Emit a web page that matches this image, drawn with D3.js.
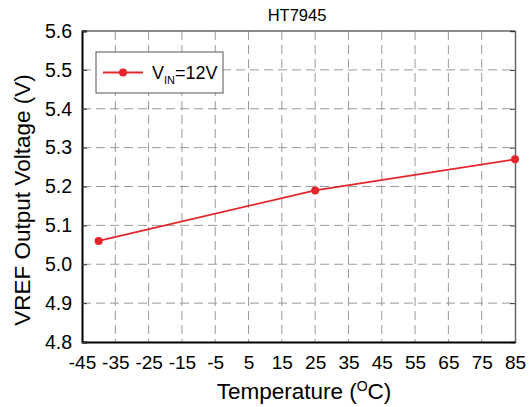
<!DOCTYPE html>
<html>
<head>
<meta charset="utf-8">
<script src="https://cdn.jsdelivr.net/npm/d3@7"></script>
<style>
  body { margin: 0; background: #fff; }
  svg { font-family: "Liberation Sans", Arial, sans-serif; }
</style>
</head>
<body>
<div id="chart"></div>
<script>
// chart data
const temperatures = [-40, 25, 85];
const vrefValues = [5.06, 5.19, 5.27];
const xTicks = [-45, -35, -25, -15, -5, 5, 15, 25, 35, 45, 55, 65, 75, 85];
const yTicks = [4.8, 4.9, 5.0, 5.1, 5.2, 5.3, 5.4, 5.5, 5.6];

let width = 531;
let height = 407;
let margin = {top: 31, right: 16, bottom: 65, left: 82};
let fontFamily = '"Liberation Sans", Arial, sans-serif';

let svg = d3.select('#chart')
  .append('svg')
  .attr('width', width)
  .attr('height', height);

let innerW = width - margin.left - margin.right;
let innerH = height - margin.top - margin.bottom;

let g = svg.append('g').attr('transform', 'translate(' + margin.left + ',' + margin.top + ')');

let x = d3.scaleLinear().domain([-45, 85]).range([0, innerW]);
let y = d3.scaleLinear().domain([4.8, 5.6]).range([innerH, 0]);

// dashed grid
g.append('g')
  .selectAll('line')
  .data(xTicks.slice(1, -1))
  .enter().append('line')
  .attr('x1', d => x(d)).attr('x2', d => x(d))
  .attr('y1', 0).attr('y2', innerH)
  .attr('stroke', '#9a9a9a')
  .attr('stroke-dasharray', '9,5');

g.append('g')
  .selectAll('line')
  .data(yTicks.slice(1, -1))
  .enter().append('line')
  .attr('x1', 0).attr('x2', innerW)
  .attr('y1', d => y(d)).attr('y2', d => y(d))
  .attr('stroke', '#9a9a9a')
  .attr('stroke-dasharray', '9,5');

// top and right frame, right side has small inward ticks
g.append('line').attr('x1', 0).attr('x2', innerW).attr('y1', 0).attr('y2', 0)
  .attr('stroke', '#666').attr('stroke-width', 1.5);
let rightAxis = g.append('g')
  .attr('transform', 'translate(' + innerW + ',0)')
  .call(d3.axisRight(y).tickValues(yTicks).tickSize(-5).tickFormat(''));
rightAxis.select('.domain').attr('stroke', '#666').attr('stroke-width', 1.5);
rightAxis.selectAll('.tick line').attr('stroke', '#333');

// bottom axis
let xAxis = g.append('g')
  .attr('transform', 'translate(0,' + innerH + ')')
  .call(d3.axisBottom(x).tickValues(xTicks).tickSize(0).tickPadding(14).tickFormat(d => String(d)));
xAxis.select('.domain').attr('stroke', '#000').attr('stroke-width', 2);
xAxis.selectAll('text').attr('font-size', 19).attr('fill', '#000')
  .style('font-family', fontFamily);

// left axis with inward ticks
let yAxis = g.append('g')
  .call(d3.axisLeft(y).tickValues(yTicks).tickSize(-5).tickPadding(10).tickFormat(d3.format('.1f')));
yAxis.select('.domain').attr('stroke', '#000').attr('stroke-width', 2);
yAxis.selectAll('.tick line').attr('stroke', '#333');
yAxis.selectAll('text').attr('font-size', 19.5).attr('fill', '#000')
  .attr('x', -10)
  .style('font-family', fontFamily);

// data line
let lineColor = '#e3262a';
let points = temperatures.map((t, i) => ({t: t, v: vrefValues[i]}));

g.append('path')
  .datum(points)
  .attr('fill', 'none')
  .attr('stroke', lineColor)
  .attr('stroke-width', 1.8)
  .attr('d', d3.line().x(d => x(d.t)).y(d => y(d.v)));

g.append('g')
  .selectAll('circle')
  .data(points)
  .enter().append('circle')
  .attr('cx', d => x(d.t))
  .attr('cy', d => y(d.v))
  .attr('r', 4)
  .attr('fill', lineColor);

// legend
let legend = g.append('g').attr('transform', 'translate(14,21)');
legend.append('rect')
  .attr('width', 127).attr('height', 41)
  .attr('fill', '#fff').attr('stroke', '#555').attr('stroke-width', 1);
legend.append('line')
  .attr('x1', 7).attr('x2', 47).attr('y1', 20.5).attr('y2', 20.5)
  .attr('stroke', lineColor).attr('stroke-width', 1.8);
legend.append('circle')
  .attr('cx', 27).attr('cy', 20.5).attr('r', 4).attr('fill', lineColor);
let legendText = legend.append('text')
  .attr('x', 56).attr('y', 27)
  .attr('font-size', 18);
legendText.append('tspan').text('V');
legendText.append('tspan').attr('font-size', 11).attr('dy', 5).text('IN');
legendText.append('tspan').attr('dy', -5).text('=12V');

// title
svg.append('text')
  .attr('x', 297)
  .attr('y', 21)
  .attr('text-anchor', 'middle')
  .attr('font-size', 16.5)
  .text('HT7945');

// axis titles
let xTitle = svg.append('text')
  .attr('x', 304)
  .attr('y', 399)
  .attr('text-anchor', 'middle')
  .attr('font-size', 22.5);
xTitle.append('tspan').text('Temperature (');
xTitle.append('tspan').attr('font-size', 14).attr('dy', -8).text('O');
xTitle.append('tspan').attr('dy', 8).text('C)');

svg.append('text')
  .attr('transform', 'rotate(-90)')
  .attr('x', -200)
  .attr('y', 30)
  .attr('text-anchor', 'middle')
  .attr('font-size', 22.5)
  .text('VREF Output Voltage (V)');
</script>
</body>
</html>
